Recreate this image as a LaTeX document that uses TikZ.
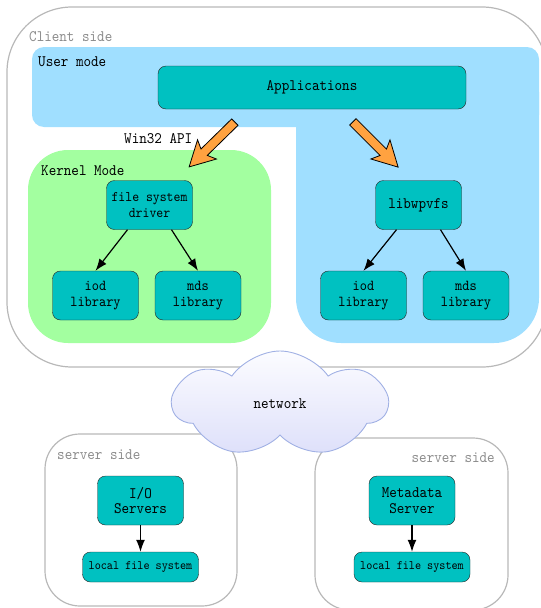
\documentclass[tikz,border=0pt]{standalone}
\usepackage{fontspec}
\setmonofont{lmmono10-regular.otf}[FakeStretch=0.9]
\usepackage{tikz}
\usetikzlibrary{arrows.meta,shapes.symbols}
\tikzset{>=latex}
\usepackage{xcolor}
\definecolor{usercol}{RGB}{160,223,255}
\definecolor{kernelcol}{RGB}{163,255,160}
\definecolor{tealbox}{RGB}{0,193,193}
\definecolor{arrowcol}{RGB}{255,162,64}
\definecolor{cloudline}{RGB}{160,176,228}
\definecolor{cloudtop}{RGB}{252,252,255}
\definecolor{cloudbot}{RGB}{222,224,250}
\colorlet{sidecol}{black!28}
\colorlet{sidetext}{black!45}
\newcommand\mfont[1]{\ttfamily\fontsize{#1}{15.5}\selectfont}
\tikzstyle{box}=[draw=black!85,fill=tealbox,rounded corners=8pt,align=center,
  inner sep=0pt,minimum width=86pt,minimum height=49pt,font={\mfont{16}}]
\tikzstyle{sidebox}=[draw=sidecol,line width=1.2pt]
\tikzstyle{sidelabel}=[inner sep=0pt,text=sidetext,font={\mfont{16}}]
\tikzstyle{modelabel}=[inner sep=0pt,font={\mfont{16}}]
\tikzstyle{edge}=[-{Latex[length=12pt,width=9pt]},line width=1.2pt]
\tikzset{
  fatarrow/.pic={
    \draw[fill=arrowcol,line width=0.8pt,line join=miter]
      (-32,-4.5) -- (11,-4.5) -- (7,-13.5) -- (32,0)
      -- (7,13.5) -- (11,4.5) -- (-32,4.5) -- cycle;
  }
}

\begin{document}
\begin{tikzpicture}[x=1pt,y=-1pt]
  \useasboundingbox (0,0) rectangle (541,608);

  % CLIENT
  \draw[sidebox,rounded corners=65pt] (7,7) rectangle (547,367);
  \node[sidelabel,anchor=west] (clientlbl) at (29,37) {Client side};

  \fill[usercol,rounded corners=12pt] (32,47) rectangle (539,127);
  \fill[usercol,rounded corners=45pt] (296,47) rectangle (539,343);
  \fill[kernelcol,rounded corners=40pt] (28,150) rectangle (271,343);
  \node[modelabel,anchor=west] (userlbl) at (38,62) {User mode};
  \node[modelabel,anchor=west] (kernellbl) at (41,171) {Kernel Mode};
  \node[modelabel,anchor=west] (winlbl) at (124,139) {Win32 API};

  \node[box,minimum width=308pt,minimum height=43pt] (apps) at (312,87.5) {Applications};

  \node[box,font={\mfont{14.6}}] (fsd) at (149.5,205) {file system\\driver};
  \node[box,font={\mfont{15.2}}] (iodL) at (95.5,295.5) {iod\\library};
  \node[box,font={\mfont{15.2}}] (mdsL) at (198,295.5) {mds\\library};
  \draw[edge] ([xshift=-22pt]fsd.south) -- (iodL.north);
  \draw[edge] ([xshift=22pt]fsd.south) -- (mdsL.north);

  \node[box] (vfs) at (418.5,205) {libwpvfs};
  \node[box,font={\mfont{15.2}}] (iodR) at (363.5,295.5) {iod\\library};
  \node[box,font={\mfont{15.2}}] (mdsR) at (466,295.5) {mds\\library};
  \draw[edge] ([xshift=-22pt]vfs.south) -- (iodR.north);
  \draw[edge] ([xshift=22pt]vfs.south) -- (mdsR.north);

  \pic[rotate=224.4] at (212,144.5) {fatarrow};
  \pic[rotate=-45] at (375.5,144.5) {fatarrow};

  % SERVERS
  \draw[sidebox,rounded corners=35pt] (45,434) rectangle (237,606);
  \node[sidelabel,anchor=west] (srvlblL) at (57,455) {server side};
  \node[box] (ios) at (140.5,500.5) {I/O\\Servers};
  \node[box,minimum width=116pt,minimum height=30pt,font={\mfont{12.9}}]
    (lfsL) at (140.5,567) {local file system};
  \draw[edge] (ios) -- (lfsL);

  \draw[sidebox,rounded corners=35pt] (315,438) rectangle (508,610);
  \node[sidelabel,anchor=east] (srvlblR) at (495,458) {server side};
  \node[box] (mds) at (412,500.5) {Metadata\\Server};
  \node[box,minimum width=116pt,minimum height=30pt,font={\mfont{12.9}}]
    (lfsR) at (412,567) {local file system};
  \draw[edge] (mds) -- (lfsR);

  % NETWORK
  \node[cloud,cloud puffs=7,cloud puff arc=110,cloud ignores aspect,draw=cloudline,
    line width=0.9pt,top color=cloudtop,bottom color=cloudbot,
    minimum width=214pt,minimum height=106pt,font={\mfont{16}}]
    (net) at (280,404) {network};
\end{tikzpicture}
\end{document}
